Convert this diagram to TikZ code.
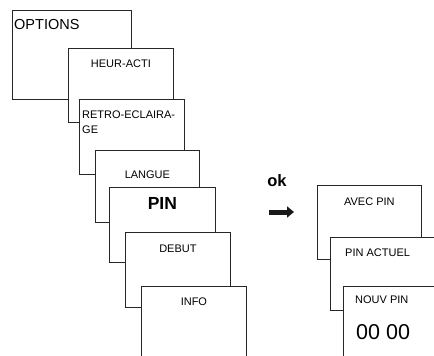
\documentclass[tikz,border=0pt]{standalone}
\usepackage{fontspec}
\setmainfont{Liberation Sans}
\usetikzlibrary{arrows.meta}

\tikzset{
  menubox/.style={draw=black!85, fill=white, line width=0.8pt, anchor=north west,
    inner sep=0pt, minimum width=105pt, minimum height=75pt},
  menutext/.style={font=\fontsize{11}{13}\selectfont, inner sep=0pt, anchor=base},
}

\begin{document}
\begin{tikzpicture}[x=1pt,y=-1pt]
      \useasboundingbox (0,0) rectangle (434,356);
      \clip (0,0) rectangle (434,356);

      % left column of menu screens
      \node[menubox, minimum width=119pt, minimum height=89pt] (options) at (12,10) {};
      \node[menubox, minimum height=74pt] (heur) at (68,48) {};
      \node[menubox] (retro) at (79,99) {};
      \node[menubox, minimum width=104pt, minimum height=72pt] (langue) at (95,150) {};
      \node[menubox, minimum width=106pt] (pin) at (109,187) {};
      \node[menubox] (debut) at (125,232) {};
      \node[menubox, minimum height=90pt] (info) at (141,286) {};

      \node[menutext, anchor=base west, font=\fontsize{14.5}{16}\selectfont] (optionstxt) at ([shift={(2pt,-20pt)}]options.north west) {OPTIONS};
      \node[menutext] (heurtxt) at ([yshift=-19pt]heur.north) {HEUR-ACTI};
      \node[menutext, anchor=base west] (retrotxt) at ([shift={(3pt,-19pt)}]retro.north west) {RETRO-ECLAIRA-};
      \node[menutext, anchor=base west] (retrotxtb) at ([shift={(3pt,-34pt)}]retro.north west) {GE};
      \node[menutext] (languetxt) at ([yshift=-28pt]langue.north) {LANGUE};
      \node[menutext, font=\fontsize{17.5}{19}\selectfont\bfseries] (pintxt) at ([yshift=-22pt]pin.north) {PIN};
      \node[menutext] (debuttxt) at ([yshift=-20pt]debut.north) {DEBUT};
      \node[menutext] (infotxt) at ([yshift=-19pt]info.north) {INFO};

      % ok arrow
      \node[menutext, font=\fontsize{16.5}{18}\selectfont\bfseries] (ok) at (277,186) {ok};
      \coordinate (arrowtail) at (269,212);
      \coordinate (arrowtip) at (294,212);
      \draw[black!90, line width=5pt, -{Triangle[length=7pt,width=11pt]}] (arrowtail) -- (arrowtip);

      % right column
      \node[menubox, minimum width=104pt, minimum height=74pt] (avec) at (317,185) {};
      \node[menubox, minimum width=104pt, minimum height=73pt] (actuel) at (330,237) {};
      \node[menubox, minimum width=104pt, minimum height=90pt] (nouv) at (343,286) {};

      \node[menutext] (avectxt) at ([yshift=-20pt]avec.north) {AVEC PIN};
      \node[menutext, anchor=base west] (actueltxt) at ([shift={(15pt,-19pt)}]actuel.north west) {PIN ACTUEL};
      \node[menutext, anchor=base west] (nouvtxt) at ([shift={(12pt,-17pt)}]nouv.north west) {NOUV PIN};
      \node[menutext, anchor=base west, font=\fontsize{21.5}{24}\selectfont] (codetxt) at ([shift={(13pt,-53pt)}]nouv.north west) {00 00};
    \end{tikzpicture}
\end{document}
